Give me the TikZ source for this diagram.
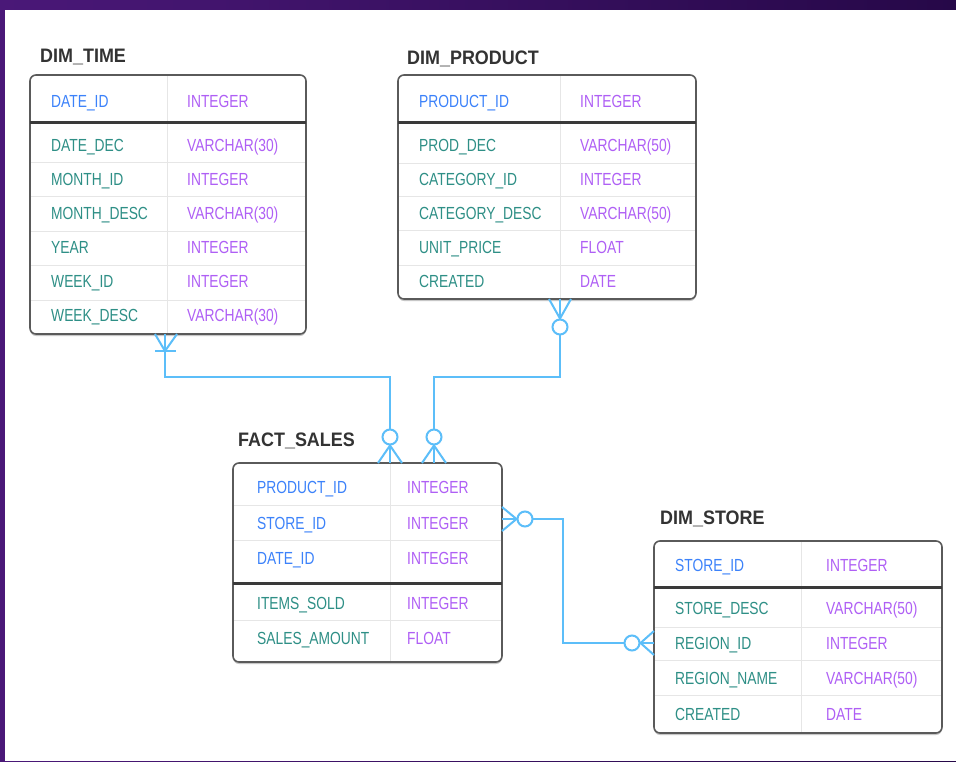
\documentclass[tikz,border=0pt]{standalone}
\usepackage{fontspec}
\setmainfont{Liberation Sans}[FakeStretch=0.79]
\newfontfamily\titlefont{Liberation Sans}[FakeStretch=0.92]
\usetikzlibrary{calc}
\definecolor{bgA}{HTML}{4A1878}
\definecolor{bgB}{HTML}{260848}
\definecolor{boxgray}{HTML}{5A5A5A}
\definecolor{titlegray}{HTML}{333333}
\definecolor{rowgray}{HTML}{E6E6E6}
\definecolor{darkline}{HTML}{3A3A3A}
\definecolor{pkblue}{HTML}{3C82FA}
\definecolor{colteal}{HTML}{2E8F86}
\definecolor{typpurple}{HTML}{AF5FF5}
\definecolor{connblue}{HTML}{5CBEF9}
\begin{document}
\begin{tikzpicture}[x=1pt,y=-1pt,
  tabbox/.style={draw=boxgray, line width=1.6pt, rounded corners=6pt, fill=white, inner sep=0pt, outer sep=0pt, anchor=north west},
  tabshadow/.style={fill=black!22, draw=none, rounded corners=6pt, inner sep=0pt, outer sep=0pt, anchor=north west},
  ttl/.style={anchor=west, inner sep=0pt, text=titlegray, font=\titlefont\bfseries\fontsize{19.5}{20}\selectfont, text height=14pt, text depth=0pt},
  cell/.style={anchor=west, inner sep=0pt, font=\fontsize{17.5}{18}\selectfont, text height=12.5pt, text depth=0pt},
  pk/.style={cell, text=pkblue},
  colt/.style={cell, text=colteal},
  typ/.style={cell, text=typpurple},
  rowline/.style={draw=rowgray, line width=1pt},
  pkline/.style={draw=darkline, line width=3pt},
  conn/.style={draw=connblue, line width=2pt},
  ring/.style={circle, draw=connblue, line width=2pt, fill=white, minimum size=15pt, inner sep=0pt}
]
% background
\useasboundingbox (0,0) rectangle (956,761);
\shade[left color=bgA, right color=bgB] (0,0) rectangle (956,761);
\fill[white] (5,10) rectangle (956,761);

% ---------------- DIM_TIME ----------------
\node[ttl] (timetitle) at (40,55) {DIM\_TIME};
\node[tabshadow, minimum width=276pt, minimum height=259pt] (timesh) at (30,77) {};
\node[tabbox, minimum width=276pt, minimum height=259pt] (time) at (30,75) {};
\draw[rowline] (167,76) -- (167,333);
\foreach \yy in {162,196,231,265,300} \draw[rowline] (31,\yy) -- (305,\yy);
\draw[pkline] (30,122) -- (306,122);
\node[pk] (time-c0) at (51,101) {DATE\_ID};
\node[typ] (time-t0) at (187,101) {INTEGER};
\foreach \n/\t/\yy [count=\i] in {DATE\_DEC/VARCHAR(30)/145, MONTH\_ID/INTEGER/179, MONTH\_DESC/VARCHAR(30)/213, YEAR/INTEGER/247, WEEK\_ID/INTEGER/281, WEEK\_DESC/VARCHAR(30)/315}{
  \node[colt] (time-c\i) at (51,\yy) {\n};
  \node[typ] (time-t\i) at (187,\yy) {\t};
}

% ---------------- DIM_PRODUCT ----------------
\node[ttl] (prodtitle) at (407,57) {DIM\_PRODUCT};
\node[tabshadow, minimum width=298pt, minimum height=224pt] (productsh) at (398,77) {};
\node[tabbox, minimum width=298pt, minimum height=224pt] (product) at (398,75) {};
\draw[rowline] (560,76) -- (560,298);
\foreach \yy in {163,196,230,265} \draw[rowline] (399,\yy) -- (695,\yy);
\draw[pkline] (398,122) -- (696,122);
\node[pk] (prod-c0) at (419,101) {PRODUCT\_ID};
\node[typ] (prod-t0) at (580,101) {INTEGER};
\foreach \n/\t/\yy [count=\i] in {PROD\_DEC/VARCHAR(50)/145, CATEGORY\_ID/INTEGER/179, CATEGORY\_DESC/VARCHAR(50)/213, UNIT\_PRICE/FLOAT/247, CREATED/DATE/281}{
  \node[colt] (prod-c\i) at (419,\yy) {\n};
  \node[typ] (prod-t\i) at (580,\yy) {\t};
}

% ---------------- FACT_SALES ----------------
\node[ttl] (facttitle) at (238,439) {FACT\_SALES};
\node[tabshadow, minimum width=269pt, minimum height=199pt] (factsh) at (233,465) {};
\node[tabbox, minimum width=269pt, minimum height=199pt] (fact) at (233,463) {};
\draw[rowline] (390,464) -- (390,661);
\foreach \yy in {505,540,620} \draw[rowline] (234,\yy) -- (501,\yy);
\draw[pkline] (233,583) -- (502,583);
\foreach \n/\t/\yy [count=\i] in {PRODUCT\_ID/INTEGER/487, STORE\_ID/INTEGER/523, DATE\_ID/INTEGER/558}{
  \node[pk] (fact-k\i) at (257,\yy) {\n};
  \node[typ] (fact-kt\i) at (407,\yy) {\t};
}
\foreach \n/\t/\yy [count=\i] in {ITEMS\_SOLD/INTEGER/603, SALES\_AMOUNT/FLOAT/638}{
  \node[colt] (fact-c\i) at (257,\yy) {\n};
  \node[typ] (fact-t\i) at (407,\yy) {\t};
}

% ---------------- DIM_STORE ----------------
\node[ttl] (storetitle) at (660,517) {DIM\_STORE};
\node[tabshadow, minimum width=288pt, minimum height=192pt] (storesh) at (654,543) {};
\node[tabbox, minimum width=288pt, minimum height=192pt] (store) at (654,541) {};
\draw[rowline] (801,542) -- (801,732);
\foreach \yy in {627,660,695} \draw[rowline] (655,\yy) -- (941,\yy);
\draw[pkline] (654,587) -- (942,587);
\node[pk] (store-c0) at (675,565) {STORE\_ID};
\node[typ] (store-t0) at (826,565) {INTEGER};
\foreach \n/\t/\yy [count=\i] in {STORE\_DESC/VARCHAR(50)/608, REGION\_ID/INTEGER/643, REGION\_NAME/VARCHAR(50)/678, CREATED/DATE/714}{
  \node[colt] (store-c\i) at (675,\yy) {\n};
  \node[typ] (store-t\i) at (826,\yy) {\t};
}

% ---------------- connectors ----------------
% DIM_TIME -> FACT_SALES
\draw[conn] ($(time.south west)+(135,0)$) |- ($(fact.north west)+(157,-86)$) -- ($(fact.north west)+(157,0)$);
\draw[conn] ($(time.south west)+(125,0)$) -- ($(time.south west)+(135,17)$) -- ($(time.south west)+(147,0)$);
\draw[conn] ($(time.south west)+(125,17)$) -- ($(time.south west)+(146,17)$);
\node[ring] (r1) at ($(fact.north west)+(157,-26)$) {};
\draw[conn] ($(fact.north west)+(145,0)$) -- (r1.south) -- ($(fact.north west)+(169,0)$);

% DIM_PRODUCT -> FACT_SALES
\draw[conn] ($(product.south west)+(162,0)$) |- ($(fact.north west)+(201,-86)$) -- ($(fact.north west)+(201,0)$);
\node[ring] (r2) at ($(product.south west)+(162,28)$) {};
\draw[conn] ($(product.south west)+(151,0)$) -- (r2.north) -- ($(product.south west)+(173,0)$);
\node[ring] (r2b) at ($(fact.north west)+(201,-26)$) {};
\draw[conn] ($(fact.north west)+(189,0)$) -- (r2b.south) -- ($(fact.north west)+(213,0)$);

% FACT_SALES -> DIM_STORE
\draw[conn] ($(fact.north east)+(0,56)$) -| ($(store.north west)+(-91,102)$) -- ($(store.north west)+(0,102)$);
\node[ring] (r3) at ($(fact.north east)+(23,56)$) {};
\draw[conn] ($(fact.north east)+(0,44)$) -- (r3.west) -- ($(fact.north east)+(0,68)$);
\node[ring] (r4) at ($(store.north west)+(-22,102)$) {};
\draw[conn] ($(store.north west)+(0,90)$) -- (r4.east) -- ($(store.north west)+(0,114)$);
\end{tikzpicture}
\end{document}
